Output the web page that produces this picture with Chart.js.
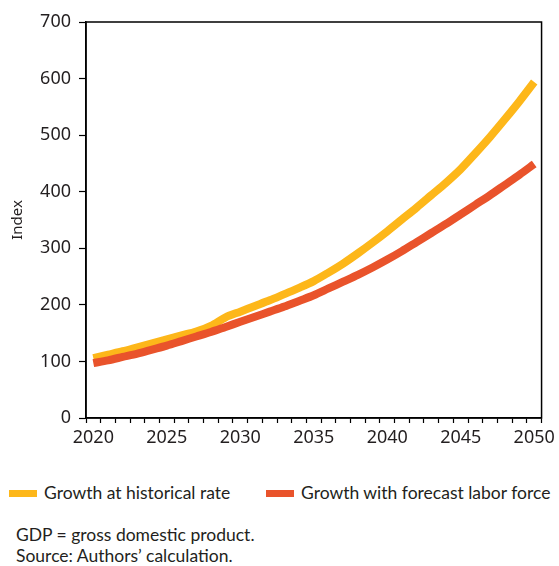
<!DOCTYPE html>
<html>
<head>
<meta charset="utf-8">
<script src="https://cdn.jsdelivr.net/npm/chart.js@4"></script>
<style>
  body { margin: 0; background: #fff; width: 559px; height: 566px; position: relative; overflow: hidden; font-family: "Lato", sans-serif; color: #231f20; }
  #wrap { position: absolute; left: 0; top: 0; width: 559px; height: 450px; }
  .legend { position: absolute; top: 481px; left: 0; width: 559px; font-size: 17.5px; }
  .item { position: absolute; top: 0; white-space: nowrap; line-height: 24px; }
  .swatch { display: inline-block; width: 28px; height: 7px; vertical-align: middle; margin-right: 7px; position: relative; top: -1px; }
  .notes { position: absolute; left: 16px; top: 524px; font-size: 17.5px; line-height: 21px; }
</style>
</head>
<body>
<div id="wrap"><canvas id="myChart" width="559" height="450"></canvas></div>
<div class="legend">
  <span class="item" style="left:9px"><span class="swatch" style="background:#FDB71A"></span>Growth at historical rate</span>
  <span class="item" style="left:266px"><span class="swatch" style="background:#E9532B"></span>Growth with forecast labor force</span>
</div>
<div class="notes">GDP = gross domestic product.<br>Source: Authors’ calculation.</div>
<script>
const years = [2020, 2021, 2022, 2023, 2024, 2025, 2026, 2027, 2028, 2029,
  2030, 2031, 2032, 2033, 2034, 2035, 2036, 2037, 2038, 2039,
  2040, 2041, 2042, 2043, 2044, 2045, 2046, 2047, 2048, 2049, 2050];
const historical = [106, 112, 118, 125, 132, 139, 146, 153, 163, 178,
  188, 198, 208, 219, 230, 242, 257, 273, 291, 310,
  330, 351, 372, 394, 416, 440, 468, 497, 528, 560, 594];
const forecastLabor = [97, 102, 108, 114, 121, 128, 136, 144, 152, 161,
  170, 179, 188, 197, 207, 217, 229, 241, 253, 266,
  280, 295, 311, 327, 343, 360, 377, 394, 412, 430, 449];
const yTicks = [0, 100, 200, 300, 400, 500, 600, 700];

const tickFont = { family: 'Noto Sans', size: 18 };

// box around the plot area
const frame = {
  id: 'frame',
  afterDraw(chart) {
    const a = chart.chartArea, c = chart.ctx;
    c.save();
    c.strokeStyle = '#000';
    c.lineWidth = 1.5;
    c.strokeRect(a.left, a.top, a.right - a.left, a.bottom - a.top);
    c.restore();
  }
};

const ctx = document.getElementById('myChart');
new Chart(ctx, {
  type: 'line',
  data: {
    labels: years,
    datasets: [
      {
        label: 'Growth at historical rate',
        data: historical,
        borderColor: '#FDB71A',
        borderWidth: 8,
        pointRadius: 0,
        tension: 0.3,
        order: 1
      },
      {
        label: 'Growth with forecast labor force',
        data: forecastLabor,
        borderColor: '#E9532B',
        borderWidth: 8,
        pointRadius: 0,
        tension: 0.3,
        order: 0
      }
    ]
  },
  options: {
    responsive: false,
    animation: false,
    layout: { padding: { top: 22, right: 12, left: 0, bottom: 0 } },
    plugins: { legend: { display: false }, tooltip: { enabled: false } },
    scales: {
      x: {
        type: 'category',
        offset: true,
        grid: { offset: true, drawOnChartArea: false, color: '#000', tickLength: 5, tickWidth: 1.2 },
        border: { color: '#000', width: 1.5 },
        ticks: {
          autoSkip: false, maxRotation: 0, padding: 4, color: '#231f20', font: tickFont,
          callback: function (v, i) { return years[i] % 5 === 0 ? String(years[i]) : ''; }
        },
        afterFit(scale) { scale.height = 32; }
      },
      y: {
        min: 0, max: 700,
        afterBuildTicks(scale) { scale.ticks = yTicks.map(v => ({ value: v })); },
        grid: { drawOnChartArea: false, color: '#000', tickLength: 7, tickWidth: 1.2 },
        border: { color: '#000', width: 1.5 },
        ticks: { padding: 8, color: '#231f20', font: tickFont },
        title: { display: true, text: 'Index', color: '#231f20', font: { family: 'Noto Sans', size: 15 }, padding: { top: 9, bottom: 0 } },
        afterFit(scale) { scale.width = 86; }
      }
    }
  },
  plugins: [frame]
});
</script>
</body>
</html>
